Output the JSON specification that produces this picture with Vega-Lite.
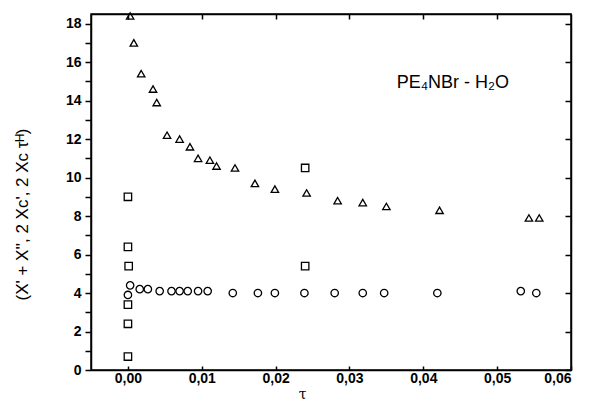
{
  "$schema": "https://vega.github.io/schema/vega-lite/v6.json",
  "width": 480,
  "height": 356,
  "autosize": "none",
  "padding": {"left": 91, "top": 14, "right": 26, "bottom": 35},
  "background": "white",
  "config": {
    "view": {"stroke": "black", "strokeWidth": 1.5},
    "font": "Liberation Sans",
    "axis": {"domainColor": "black", "tickColor": "black", "labelColor": "black", "titleColor": "black", "grid": false, "labelFont": "Liberation Sans", "labelFontSize": 14, "labelFontWeight": "bold", "domainWidth": 1.5, "tickWidth": 1.5}
  },
  "datasets": {
    "pts": [
      {"tau": 0.0003, "v": 18.4, "s": "tri"},
      {"tau": 0.0008, "v": 17.0, "s": "tri"},
      {"tau": 0.0018, "v": 15.4, "s": "tri"},
      {"tau": 0.0034, "v": 14.6, "s": "tri"},
      {"tau": 0.0039, "v": 13.9, "s": "tri"},
      {"tau": 0.0053, "v": 12.2, "s": "tri"},
      {"tau": 0.0070, "v": 12.0, "s": "tri"},
      {"tau": 0.0084, "v": 11.6, "s": "tri"},
      {"tau": 0.0095, "v": 11.0, "s": "tri"},
      {"tau": 0.0111, "v": 10.9, "s": "tri"},
      {"tau": 0.0120, "v": 10.6, "s": "tri"},
      {"tau": 0.0145, "v": 10.5, "s": "tri"},
      {"tau": 0.0172, "v": 9.7, "s": "tri"},
      {"tau": 0.0199, "v": 9.4, "s": "tri"},
      {"tau": 0.0242, "v": 9.2, "s": "tri"},
      {"tau": 0.0284, "v": 8.8, "s": "tri"},
      {"tau": 0.0318, "v": 8.7, "s": "tri"},
      {"tau": 0.0350, "v": 8.5, "s": "tri"},
      {"tau": 0.0422, "v": 8.3, "s": "tri"},
      {"tau": 0.0543, "v": 7.9, "s": "tri"},
      {"tau": 0.0557, "v": 7.9, "s": "tri"},
      {"tau": 0.0000, "v": 3.9, "s": "circ"},
      {"tau": 0.0003, "v": 4.4, "s": "circ"},
      {"tau": 0.0016, "v": 4.2, "s": "circ"},
      {"tau": 0.0027, "v": 4.2, "s": "circ"},
      {"tau": 0.0043, "v": 4.1, "s": "circ"},
      {"tau": 0.0059, "v": 4.1, "s": "circ"},
      {"tau": 0.0070, "v": 4.1, "s": "circ"},
      {"tau": 0.0081, "v": 4.1, "s": "circ"},
      {"tau": 0.0095, "v": 4.1, "s": "circ"},
      {"tau": 0.0108, "v": 4.1, "s": "circ"},
      {"tau": 0.0142, "v": 4.0, "s": "circ"},
      {"tau": 0.0176, "v": 4.0, "s": "circ"},
      {"tau": 0.0199, "v": 4.0, "s": "circ"},
      {"tau": 0.0239, "v": 4.0, "s": "circ"},
      {"tau": 0.0280, "v": 4.0, "s": "circ"},
      {"tau": 0.0318, "v": 4.0, "s": "circ"},
      {"tau": 0.0347, "v": 4.0, "s": "circ"},
      {"tau": 0.0419, "v": 4.0, "s": "circ"},
      {"tau": 0.0532, "v": 4.1, "s": "circ"},
      {"tau": 0.0553, "v": 4.0, "s": "circ"},
      {"tau": 0.0000, "v": 9.0, "s": "sq"},
      {"tau": 0.0000, "v": 6.4, "s": "sq"},
      {"tau": 0.0001, "v": 5.4, "s": "sq"},
      {"tau": 0.0000, "v": 3.4, "s": "sq"},
      {"tau": 0.0000, "v": 2.4, "s": "sq"},
      {"tau": 0.0000, "v": 0.7, "s": "sq"},
      {"tau": 0.0240, "v": 10.5, "s": "sq"},
      {"tau": 0.0240, "v": 5.4, "s": "sq"}
    ],
    "lbl": [
      {"tau": 0.044, "v": 14.9, "t": "PE₄NBr - H₂O"}
    ]
  },
  "layer": [
    {
      "data": {"name": "pts"},
      "mark": {"type": "point", "filled": false, "stroke": "black", "strokeWidth": 1.3, "size": 55, "opacity": 1},
      "encoding": {
        "x": {"field": "tau", "type": "quantitative",
          "scale": {"domain": [-0.005, 0.06], "nice": false, "zero": false},
          "axis": {"orient": "bottom", "values": [0, 0.01, 0.02, 0.03, 0.04, 0.05, 0.06],
            "labelExpr": "replace(format(datum.value, '.2f'), '.', ',')",
            "tickSize": -4, "labelPadding": 5,
            "title": "τ", "titleFont": "DejaVu Serif", "titleFontSize": 14, "titleFontWeight": "normal", "titleX": 211, "titleY": 17, "titleBaseline": "top"}},
        "y": {"field": "v", "type": "quantitative",
          "scale": {"domain": [0, 18.5], "nice": false, "zero": false},
          "axis": {"orient": "left", "values": [0,1,2,3,4,5,6,7,8,9,10,11,12,13,14,15,16,17,18],
            "labelExpr": "datum.value % 2 == 0 ? datum.value : ''",
            "tickSize": 6, "labelPadding": 4,
            "title": "(X' + X'', 2 Xc', 2 Xc τᴴ)", "titleFontSize": 17, "titleFontWeight": "normal", "titlePadding": 34, "titleY": 200}},
        "shape": {"field": "s", "type": "nominal", "legend": null,
          "scale": {"domain": ["tri", "circ", "sq"], "range": ["triangle-up", "circle", "square"]}}
      }
    },
    {
      "data": {"name": "lbl"},
      "mark": {"type": "text", "fontSize": 18, "font": "Liberation Sans", "color": "black"},
      "encoding": {
        "x": {"field": "tau", "type": "quantitative",
          "axis": {"orient": "top", "values": [0, 0.01, 0.02, 0.03, 0.04, 0.05], "labels": false, "tickSize": -5, "title": null}},
        "y": {"field": "v", "type": "quantitative",
          "axis": {"orient": "right", "values": [0,2,4,6,8,10,12,14,16,18], "labels": false, "tickSize": -6, "title": null}},
        "text": {"field": "t"}
      }
    }
  ],
  "resolve": {"axis": {"x": "independent", "y": "independent"}}
}
